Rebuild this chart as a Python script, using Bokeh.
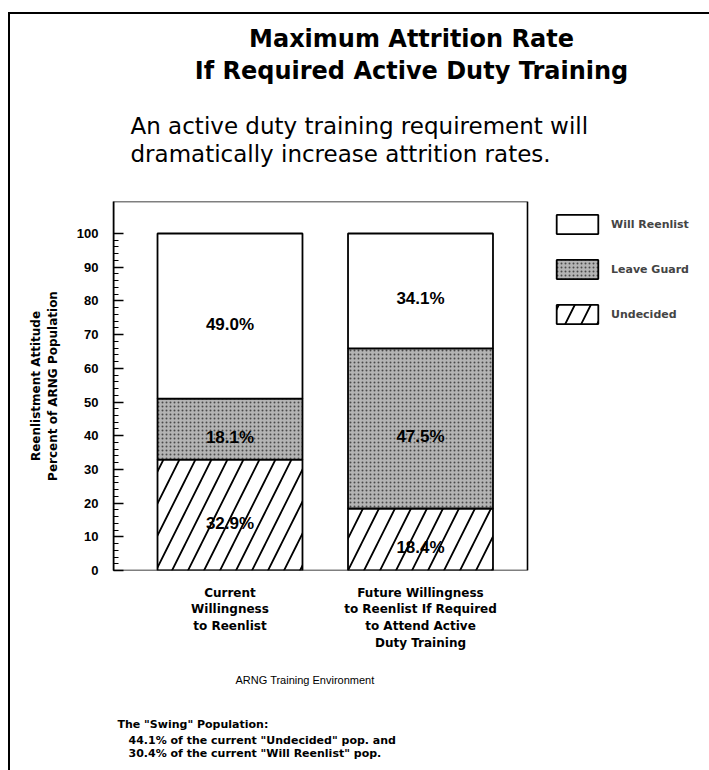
from bokeh.plotting import figure
from bokeh.models import (Range1d, FixedTicker, Legend, LegendItem, ColumnDataSource, Title)
from bokeh.embed import file_html
from bokeh.resources import INLINE
from bokeh.core.properties import value

# ---------------- data ----------------
categories = ["Current\nWillingness\nto Reenlist",
              "Future Willingness\nto Reenlist If Required\nto Attend Active\nDuty Training"]
series_names = ["Will Reenlist", "Leave Guard", "Undecided"]
undecided = [32.9, 18.4]
leave_guard = [18.1, 47.5]
will_reenlist = [49.0, 34.1]
y_ticks = [0, 10, 20, 30, 40, 50, 60, 70, 80, 90, 100]
y_minor = list(range(0, 101, 2))

title_lines = ["Maximum Attrition Rate", "If Required Active Duty Training"]
subtitle_lines = ["An active duty training requirement will",
                  "dramatically increase attrition rates."]
y_label = "Reenlistment Attitude\nPercent of ARNG Population"
x_label = "ARNG Training Environment"
note_head = 'The "Swing" Population:'
note_body = '44.1% of the current "Undecided" pop. and\n30.4% of the current "Will Reenlist" pop.'

# ---------------- layout constants ----------------
W, H = 709, 770
FRAME_L, FRAME_T, FRAME_B, BOX_R = 113, 201, 570, 527
PX_PER_CAT = 190.5
X0 = 1 - (229.5 - FRAME_L) / PX_PER_CAT
X1 = X0 + (W - FRAME_L) / PX_PER_CAT
XB = X0 + (BOX_R - FRAME_L) / PX_PER_CAT
Y_TOP = 109.5

xs = [1, 2]
p = figure(width=W, height=H, output_backend="svg", toolbar_location=None,
           x_range=Range1d(X0, X1), y_range=Range1d(0, Y_TOP),
           min_border_left=FRAME_L, min_border_right=0,
           min_border_top=FRAME_T, min_border_bottom=H - FRAME_B,
           styles={"background-color": "white",
                   "background-image": "linear-gradient(#000,#000), linear-gradient(#000,#000)",
                   "background-size": "100% 2px, 2px 100%",
                   "background-position": "8px 12px, 8px 12px",
                   "background-repeat": "no-repeat"})
p.background_fill_color = "white"
p.background_fill_alpha = 0
p.border_fill_alpha = 0
p.outline_line_color = None
p.xgrid.visible = False
p.ygrid.visible = False

b0 = [0, 0]
t0 = undecided
t1 = [a + b for a, b in zip(t0, leave_guard)]
t2 = [a + b for a, b in zip(t1, will_reenlist)]

bw = 0.761
r_und = p.vbar(x=xs, bottom=b0, top=t0, width=bw, fill_color="white",
               line_color="black", line_width=1.8, hatch_pattern="/",
               hatch_scale=32, hatch_weight=1.8, hatch_color="black")
r_lg = p.vbar(x=xs, bottom=t0, top=t1, width=bw, fill_color="#b4b4b4",
              line_color="black", line_width=1.8, hatch_pattern=".",
              hatch_scale=4, hatch_weight=1, hatch_color="#4a4a4a")
r_wr = p.vbar(x=xs, bottom=t1, top=t2, width=bw, fill_color="white",
              line_color="black", line_width=1.8)

# plot box
p.quad(left=[X0], right=[XB], bottom=[0], top=[Y_TOP], fill_color=None,
       line_color="black", line_width=1.6)

lx, ly, lt = [], [], []
for i, x in enumerate(xs):
    for lo, v in ((0, undecided[i]), (t0[i], leave_guard[i]), (t1[i], will_reenlist[i])):
        lx.append(x)
        ly.append(lo + v / 2)
        lt.append(f"{v:.1f}%")
src = ColumnDataSource(dict(x=lx, y=ly, t=lt))
p.text(x="x", y="y", text="t", source=src, text_align="center",
       text_baseline="middle", text_font=value("Liberation Sans"),
       text_font_style="bold", text_font_size="17px", text_color="black",
       y_offset=8)

p.xaxis.ticker = FixedTicker(ticks=xs)
p.xaxis.major_label_overrides = {x: c for x, c in zip(xs, categories)}
p.xaxis.major_tick_line_color = None
p.xaxis.minor_tick_line_color = None
p.xaxis.axis_line_color = None
p.xaxis.major_label_standoff = 9
p.xaxis.major_label_text_font = "DejaVu Sans"
p.xaxis.major_label_text_font_style = "bold"
p.xaxis.major_label_text_font_size = "12px"
p.xaxis.major_label_text_color = "black"

p.yaxis.ticker = FixedTicker(ticks=y_ticks, minor_ticks=y_minor)
p.yaxis.major_tick_in = 10
p.yaxis.major_tick_out = 0
p.yaxis.minor_tick_in = 5
p.yaxis.minor_tick_out = 0
p.yaxis.major_tick_line_width = 1.4
p.yaxis.minor_tick_line_width = 1.2
p.yaxis.axis_line_color = "black"
p.yaxis.axis_line_width = 1.6
p.yaxis.major_label_standoff = 15
p.yaxis.major_label_text_font = "Liberation Sans"
p.yaxis.major_label_text_font_style = "bold"
p.yaxis.major_label_text_font_size = "13px"
p.yaxis.major_label_text_color = "black"
p.yaxis.axis_label = y_label
p.yaxis.axis_label_standoff = 14
p.yaxis.axis_label_text_font = "DejaVu Sans"
p.yaxis.axis_label_text_font_style = "bold"
p.yaxis.axis_label_text_font_size = "12px"
p.yaxis.axis_label_text_color = "black"

# legend inside the (extended) frame, right of the plot box
legend = Legend(items=[LegendItem(label=series_names[0], renderers=[r_wr]),
                       LegendItem(label=series_names[1], renderers=[r_lg]),
                       LegendItem(label=series_names[2], renderers=[r_und])],
                location=(438, 244), padding=0, margin=0, spacing=21,
                glyph_width=52, glyph_height=24, label_height=24, label_standoff=8,
                label_text_font="DejaVu Sans", label_text_font_style="bold",
                label_text_font_size="11px", border_line_alpha=0,
                background_fill_alpha=0)
p.add_layout(legend, "center")


def ttl(text, side, size, style, font, align, offset, standoff, lh=1.2):
    p.add_layout(Title(text=text, align=align, offset=offset, standoff=standoff,
                       text_font=font, text_font_size=size, text_font_style=style,
                       text_color="black", text_line_height=lh), side)


# above (first added = nearest the frame); " " titles are spacers
ttl(" ", "above", "1px", "normal", "DejaVu Sans", "left", 0, 31.4)
ttl(subtitle_lines[1], "above", "23px", "normal", "DejaVu Sans", "left", 17, 0)
ttl(subtitle_lines[0], "above", "23px", "normal", "DejaVu Sans", "left", 17, 0)
ttl(" ", "above", "1px", "normal", "DejaVu Sans", "left", 0, 21.3)
ttl(title_lines[1], "above", "24px", "bold", "DejaVu Sans", "center", 0, 2.1)
ttl(title_lines[0], "above", "24px", "bold", "DejaVu Sans", "center", 0, 2.1)
ttl(" ", "above", "1px", "normal", "DejaVu Sans", "left", 0, 17.2)

# below (after the x axis)
ttl(x_label, "below", "11px", "normal", "Liberation Sans", "left", 122, 38.8)
ttl(" ", "below", "1px", "normal", "DejaVu Sans", "left", 0, 5.7)
ttl(note_head, "below", "11px", "bold", "DejaVu Sans", "left", 4, 2)
ttl(note_body, "below", "11px", "bold", "DejaVu Sans", "left", 15, 0, 1.0)
ttl(" ", "below", "1px", "normal", "DejaVu Sans", "left", 0, 6.5)

open("out.html", "w").write(file_html(p, INLINE))
